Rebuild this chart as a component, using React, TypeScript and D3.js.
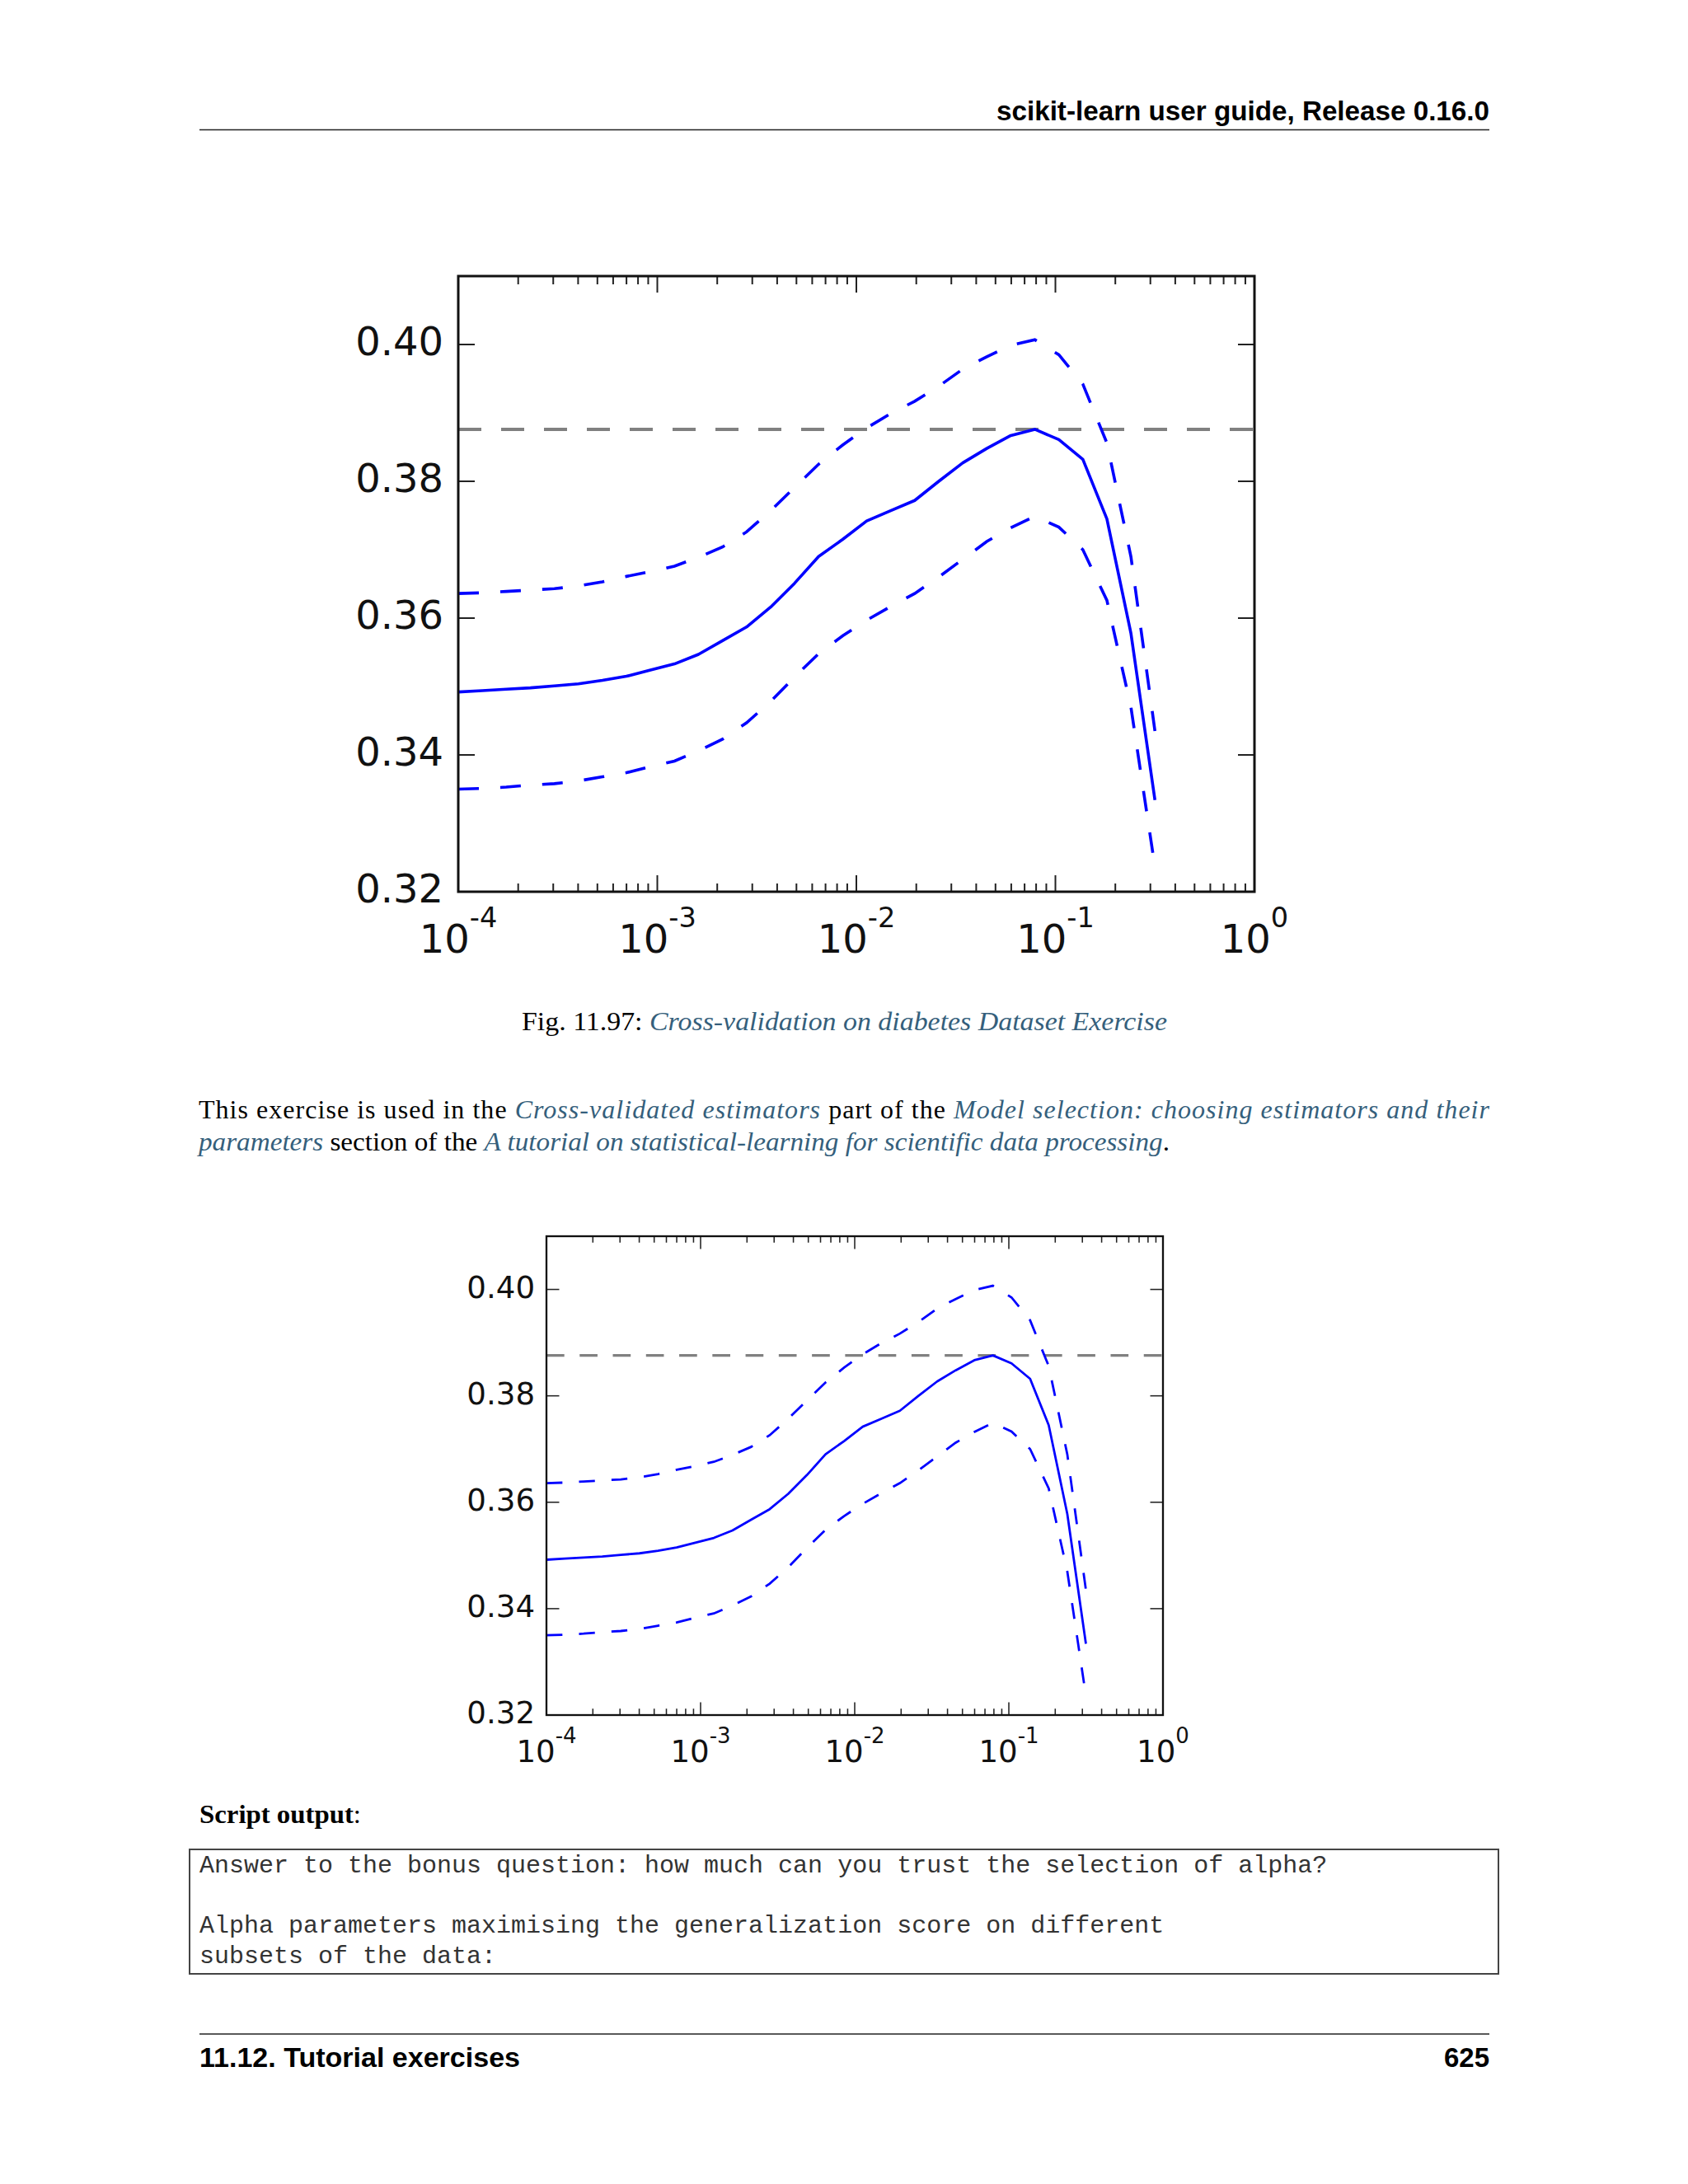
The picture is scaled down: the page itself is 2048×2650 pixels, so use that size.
import * as d3 from 'd3';

// alpha grid (x values of the CV curve)
const ALPHAS = [
  1.0e-4, 1.320e-4, 1.743e-4, 2.302e-4, 3.039e-4, 4.012e-4, 5.298e-4, 6.995e-4, 9.237e-4, 1.2195e-3,
  1.610e-3, 2.126e-3, 2.807e-3, 3.707e-3, 4.894e-3, 6.462e-3, 8.532e-3, 1.1265e-2, 1.4874e-2, 1.964e-2,
  2.5933e-2, 3.424e-2, 4.5211e-2, 5.9695e-2, 7.882e-2, 0.10405, 0.13738, 0.18139, 0.2395, 0.31623,
];
// mean CV score
const MEAN = [
  0.3492, 0.3494, 0.3496, 0.3498, 0.3501, 0.3504, 0.3509, 0.3515, 0.3524, 0.3533,
  0.3547, 0.3567, 0.3587, 0.3616, 0.3651, 0.3690, 0.3715, 0.3742, 0.3757, 0.3772,
  0.3800, 0.3827, 0.3848, 0.3867, 0.3876, 0.3861, 0.3832, 0.3745, 0.3578, 0.3334,
];
// mean + std error
const UPPER = [
  0.3636, 0.3637, 0.3639, 0.3641, 0.3643, 0.3647, 0.3653, 0.3661, 0.3668, 0.3676,
  0.3689, 0.3704, 0.3726, 0.3757, 0.3791, 0.3825, 0.3853, 0.3878, 0.3899, 0.3917,
  0.3939, 0.3964, 0.3982, 0.3999, 0.4007, 0.3985, 0.3942, 0.3856, 0.3690, 0.3435,
];
// mean - std error
const LOWER = [
  0.3350, 0.3351, 0.3353, 0.3356, 0.3358, 0.3362, 0.3368, 0.3374, 0.3383, 0.3391,
  0.3406, 0.3423, 0.3447, 0.3478, 0.3514, 0.3548, 0.3574, 0.3597, 0.3617, 0.3636,
  0.3660, 0.3686, 0.3712, 0.3732, 0.3749, 0.3733, 0.3700, 0.3626, 0.3470, 0.3236,
];

const Y_TICKS = [0.32, 0.34, 0.36, 0.38, 0.4];
const X_DOMAIN: [number, number] = [1e-4, 1];
const Y_DOMAIN: [number, number] = [0.32, 0.41];

const PLOT_FONT = '"DejaVu Sans", sans-serif';
const SERIF = '"Liberation Serif", "Times New Roman", serif';
const SANS = '"Liberation Sans", Arial, sans-serif';
const MONO = '"Liberation Mono", "Courier New", monospace';
const LINK = '#355f7c';

interface ChartProps {
  left: number;
  top: number;
  width: number;
  height: number;
  k: number; // size factor
  id: string;
}

function Chart({ left, top, width, height, k, id }: ChartProps) {
  const x = d3.scaleLog().domain(X_DOMAIN).range([left, left + width]);
  const y = d3.scaleLinear().domain(Y_DOMAIN).range([top + height, top]);
  const line = d3
    .line<number>()
    .x((_, i) => x(ALPHAS[i]))
    .y(d => y(d));

  const best = d3.max(MEAN) ?? 0;
  const xTicks = x.ticks();
  const isMajor = (t: number) => Math.abs(Math.log10(t) - Math.round(Math.log10(t))) < 1e-6;

  const fs = 48 * k;
  const majorLen = 20 * k;
  const minorLen = 10 * k;
  const tickW = 2 * k;
  const bottom = top + height;
  const right = left + width;

  return (
    <g>
      <defs>
        <clipPath id={id}>
          <rect x={left} y={top} width={width} height={height} />
        </clipPath>
      </defs>

      <g clipPath={`url(#${id})`}>
        <line
          x1={left}
          x2={right}
          y1={y(best)}
          y2={y(best)}
          stroke="#808080"
          strokeWidth={4 * k}
          strokeDasharray={`${28 * k} ${24 * k}`}
        />
        <path d={line(MEAN) ?? ''} fill="none" stroke="#0000ff" strokeWidth={3.6 * k} strokeLinejoin="round" />
        <path
          d={line(UPPER) ?? ''}
          fill="none"
          stroke="#0000ff"
          strokeWidth={3.6 * k}
          strokeDasharray={`${25 * k} ${26 * k}`}
        />
        <path
          d={line(LOWER) ?? ''}
          fill="none"
          stroke="#0000ff"
          strokeWidth={3.6 * k}
          strokeDasharray={`${25 * k} ${26 * k}`}
        />
      </g>

      {/* x ticks, bottom and top, pointing inward */}
      {xTicks.map((t, i) => {
        const len = isMajor(t) ? majorLen : minorLen;
        const px = x(t);
        return (
          <g key={`xt${i}`} stroke="#222" strokeWidth={tickW}>
            <line x1={px} x2={px} y1={bottom} y2={bottom - len} />
            <line x1={px} x2={px} y1={top} y2={top + len} />
          </g>
        );
      })}

      {/* y ticks, left and right */}
      {Y_TICKS.map(t => (
        <g key={`yt${t}`} stroke="#222" strokeWidth={tickW}>
          <line x1={left} x2={left + majorLen} y1={y(t)} y2={y(t)} />
          <line x1={right} x2={right - majorLen} y1={y(t)} y2={y(t)} />
        </g>
      ))}

      <rect x={left} y={top} width={width} height={height} fill="none" stroke="#111" strokeWidth={3 * k} />

      {Y_TICKS.map(t => (
        <text
          key={`yl${t}`}
          x={left - 18 * k}
          y={y(t) + 0.27 * fs}
          textAnchor="end"
          fontFamily={PLOT_FONT}
          fontSize={fs}
          fill="#111"
        >
          {t.toFixed(2)}
        </text>
      ))}

      {xTicks.filter(isMajor).map(t => (
        <text
          key={`xl${t}`}
          x={x(t)}
          y={bottom + 74 * k}
          textAnchor="middle"
          fontFamily={PLOT_FONT}
          fontSize={fs}
          fill="#111"
        >
          <tspan>10</tspan>
          <tspan fontSize={fs * 0.7} dy={-0.64 * fs}>
            {String(Math.round(Math.log10(t)))}
          </tspan>
        </text>
      ))}
    </g>
  );
}

export default function App() {
  return (
    <svg
      width={2048}
      height={2650}
      viewBox="0 0 2048 2650"
      style={{ position: 'absolute', left: 0, top: 0, background: '#fff', whiteSpace: 'pre' }}
    >
      <rect x={0} y={0} width={2048} height={2650} fill="#fff" />

      {/* running header */}
      <text x={1807} y={146} textAnchor="end" fontFamily={SANS} fontWeight="bold" fontSize={33} textLength={598}
        lengthAdjust="spacingAndGlyphs" fill="#000">
        scikit-learn user guide, Release 0.16.0
      </text>
      <line x1={242} x2={1807} y1={157.5} y2={157.5} stroke="#222" strokeWidth={1.6} />

      <Chart left={556} top={335} width={966} height={747} k={1} id="clip1" />

      {/* caption */}
      <text x={1024.5} y={1250} textAnchor="middle" fontFamily={SERIF} fontSize={32} textLength={783}
        lengthAdjust="spacingAndGlyphs" fill="#000">
        <tspan>Fig.  11.97: </tspan>
        <tspan fontStyle="italic" fill={LINK}>Cross-validation on diabetes Dataset Exercise</tspan>
      </text>

      {/* paragraph */}
      <text x={241} y={1357} fontFamily={SERIF} fontSize={32} textLength={1566} lengthAdjust="spacing" fill="#000">
        <tspan>This exercise is used in the </tspan>
        <tspan fontStyle="italic" fill={LINK}>Cross-validated estimators</tspan>
        <tspan> part of the </tspan>
        <tspan fontStyle="italic" fill={LINK}>Model selection:  choosing estimators and their</tspan>
      </text>
      <text x={241} y={1396} fontFamily={SERIF} fontSize={32} textLength={1178} lengthAdjust="spacingAndGlyphs" fill="#000">
        <tspan fontStyle="italic" fill={LINK}>parameters</tspan>
        <tspan> section of the </tspan>
        <tspan fontStyle="italic" fill={LINK}>A tutorial on statistical-learning for scientific data processing</tspan>
        <tspan>.</tspan>
      </text>

      <Chart left={663} top={1500} width={748} height={581} k={0.7743} id="clip2" />

      {/* script output */}
      <text x={242} y={2212} fontFamily={SERIF} fontSize={32} textLength={196} lengthAdjust="spacingAndGlyphs" fill="#000">
        <tspan fontWeight="bold">Script output</tspan>
        <tspan>:</tspan>
      </text>
      <rect x={230} y={2244} width={1588} height={151} fill="none" stroke="#444" strokeWidth={2} />
      <text x={242} y={2272} fontFamily={MONO} fontSize={30} fill="#333">
        Answer to the bonus question: how much can you trust the selection of alpha?
      </text>
      <text x={242} y={2345} fontFamily={MONO} fontSize={30} fill="#333">
        Alpha parameters maximising the generalization score on different
      </text>
      <text x={242} y={2382} fontFamily={MONO} fontSize={30} fill="#333">
        subsets of the data:
      </text>

      {/* running footer */}
      <line x1={242} x2={1807} y1={2468} y2={2468} stroke="#222" strokeWidth={1.6} />
      <text x={242} y={2508} fontFamily={SANS} fontWeight="bold" fontSize={33} textLength={389}
        lengthAdjust="spacingAndGlyphs" fill="#000">
        11.12.  Tutorial exercises
      </text>
      <text x={1807} y={2508} textAnchor="end" fontFamily={SANS} fontWeight="bold" fontSize={33} fill="#000">
        625
      </text>
    </svg>
  );
}
